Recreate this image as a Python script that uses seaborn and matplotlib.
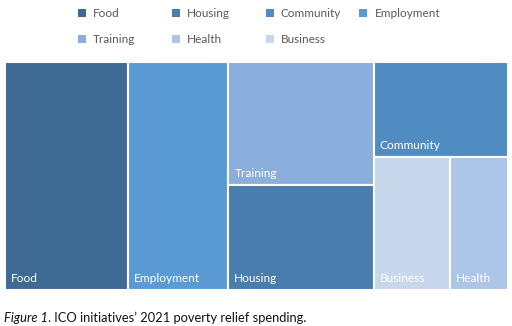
import matplotlib
matplotlib.use("Agg")
import matplotlib.pyplot as plt
from matplotlib.patches import Rectangle
import seaborn as sns

# Spending share by initiative (percent of total)
categories = ["Food", "Housing", "Community", "Employment", "Training", "Health", "Business"]
values = [24.5, 13.3, 11.1, 19.9, 15.6, 6.7, 8.9]
colors = ["#3E6A93", "#497DAE", "#508BC2", "#5B9BD5", "#8AAFDC", "#ADC5E6", "#C7D7EC"]

# Tile arrangement: columns left to right; inside a column tiles stack top to bottom,
# a nested list splits side by side.
arrangement = [["Food"], ["Employment"], ["Training", "Housing"], ["Community", ["Business", "Health"]]]

caption_italic = "Figure 1"
caption_rest = ". ICO initiatives\u2019 2021 poverty relief spending."

sns.set_theme(style="white")
plt.rcParams["font.family"] = ["Lato", "DejaVu Sans"]

value_of = dict(zip(categories, values))
color_of = dict(zip(categories, colors))


def total(node):
    if isinstance(node, str):
        return value_of[node]
    return sum(total(n) for n in node)


def place(node, x, y, w, h, horizontal, out):
    if isinstance(node, str):
        out[node] = (x, y, w, h)
        return
    s = total(node)
    if horizontal:
        cx = x
        for child in node:
            cw = w * total(child) / s
            place(child, cx, y, cw, h, False, out)
            cx += cw
    else:
        cy = y + h
        for child in node:
            ch = h * total(child) / s
            cy -= ch
            place(child, x, cy, w, ch, True, out)


tiles = {}
place(arrangement, 0.0, 0.0, 1.0, 1.0, True, tiles)

W, H = 512, 326
fig = plt.figure(figsize=(W / 100, H / 100), dpi=100)
fig.patch.set_facecolor("white")

left, right, top, bottom = 5, 508, 62, 290
ax = fig.add_axes([left / W, 1 - bottom / H, (right - left) / W, (bottom - top) / H])
ax.set_xlim(0, 1)
ax.set_ylim(0, 1)
ax.axis("off")

for name, (x, y, w, h) in tiles.items():
    ax.add_patch(Rectangle((x, y), w, h, facecolor=color_of[name],
                           edgecolor="white", linewidth=1.5))
    ax.annotate(name, xy=(x, y), xytext=(6, 8), textcoords="offset pixels",
                color="white", fontsize=8.6, va="baseline", ha="left")

# Legend: four entries per row
col_x0, col_dx = 78, 93.8
row_y0, row_dy = 13.3, 26
for i, name in enumerate(categories):
    r, c = divmod(i, 4)
    mx = col_x0 + c * col_dx
    my = row_y0 + r * row_dy
    fig.patches.append(Rectangle(((mx) / W, 1 - (my + 4) / H), 8 / W, 8 / H,
                                 transform=fig.transFigure, facecolor=color_of[name],
                                 edgecolor="none"))
    fig.text((mx + 15) / W, 1 - my / H, name, color="#595959", fontsize=8.5,
             va="center", ha="left")

# Caption
cap_size = 9.3
t1 = fig.text(4 / W, 1 - 318 / H, caption_italic, style="italic", color="#111111",
              fontsize=cap_size, va="center", ha="left")
fig.canvas.draw()
bb = t1.get_window_extent()
fig.text(bb.x1 / W, 1 - 318 / H, caption_rest, color="#111111", fontsize=cap_size,
         va="center", ha="left")

fig.savefig("out.png", dpi=100, facecolor="white")
